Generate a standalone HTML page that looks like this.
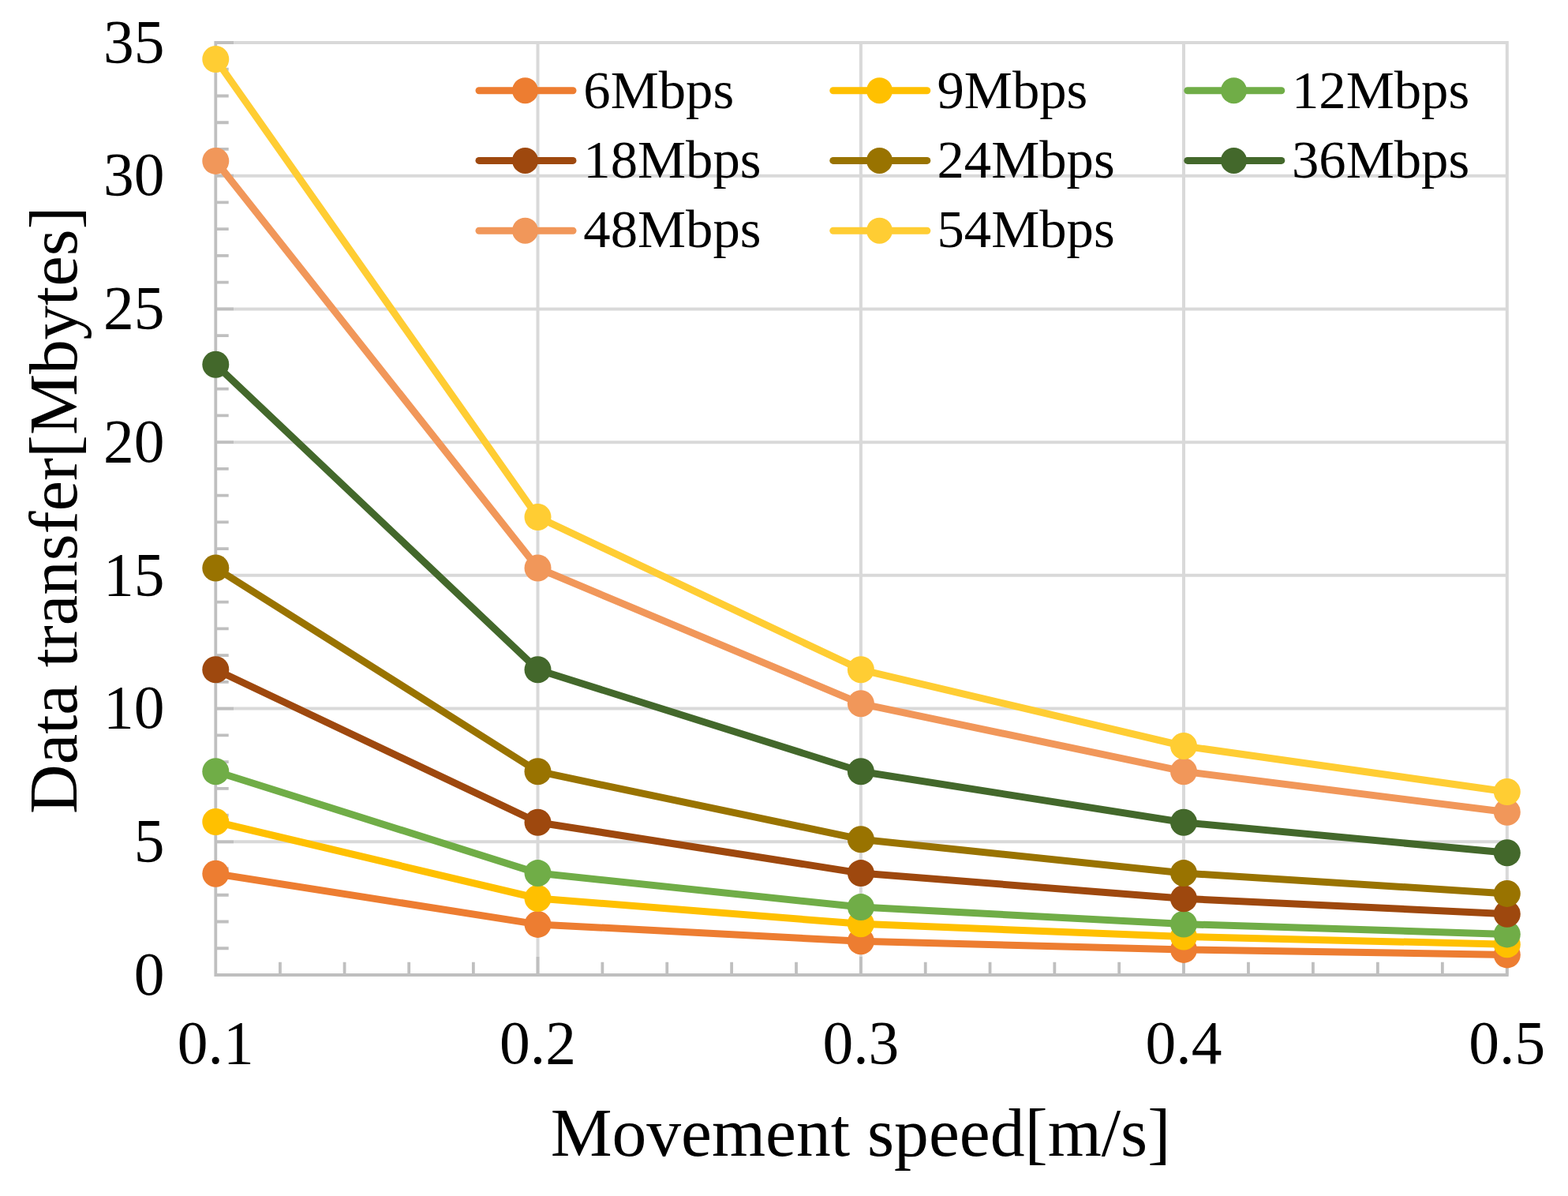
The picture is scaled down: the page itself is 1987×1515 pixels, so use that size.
<!DOCTYPE html><html><head><meta charset="utf-8"><title>Data transfer vs Movement speed</title><style>html,body{margin:0;padding:0;background:#fff;}svg{display:block;}text{font-family:"Liberation Serif","Times New Roman",serif;fill:#000;}</style></head><body>
<svg width="1987" height="1515" viewBox="0 0 1987 1515">
<rect width="1987" height="1515" fill="#fff"/>
<path d="M273.3 1066.29H1911.8 M273.3 897.57H1911.8 M273.3 728.86H1911.8 M273.3 560.14H1911.8 M273.3 391.43H1911.8 M273.3 222.71H1911.8 M273.3 54.00H1911.8 M681.5 52.00V1235.0 M1090.9 52.00V1235.0 M1500.0 52.00V1235.0 M1909.8 52.00V1235.0" stroke="#D9D9D9" stroke-width="4.0" fill="none"/>
<path d="M273.3 52.10V1236.90 M271.40 1235.0H1911.70 M273.3 1201.26h16.4 M273.3 1167.51h16.4 M273.3 1133.77h16.4 M273.3 1100.03h16.4 M273.3 1066.29h22.7 M273.3 1032.54h16.4 M273.3 998.80h16.4 M273.3 965.06h16.4 M273.3 931.31h16.4 M273.3 897.57h22.7 M273.3 863.83h16.4 M273.3 830.09h16.4 M273.3 796.34h16.4 M273.3 762.60h16.4 M273.3 728.86h22.7 M273.3 695.11h16.4 M273.3 661.37h16.4 M273.3 627.63h16.4 M273.3 593.89h16.4 M273.3 560.14h22.7 M273.3 526.40h16.4 M273.3 492.66h16.4 M273.3 458.91h16.4 M273.3 425.17h16.4 M273.3 391.43h22.7 M273.3 357.69h16.4 M273.3 323.94h16.4 M273.3 290.20h16.4 M273.3 256.46h16.4 M273.3 222.71h22.7 M273.3 188.97h16.4 M273.3 155.23h16.4 M273.3 121.49h16.4 M273.3 87.74h16.4 M273.3 54.00h22.7 M354.94 1235.0v-16.3 M436.58 1235.0v-16.3 M518.22 1235.0v-16.3 M599.86 1235.0v-16.3 M763.38 1235.0v-16.3 M845.26 1235.0v-16.3 M927.14 1235.0v-16.3 M1009.02 1235.0v-16.3 M1172.72 1235.0v-16.3 M1254.54 1235.0v-16.3 M1336.36 1235.0v-16.3 M1418.18 1235.0v-16.3 M1581.96 1235.0v-16.3 M1663.92 1235.0v-16.3 M1745.88 1235.0v-16.3 M1827.84 1235.0v-16.3 M681.5 1235.0v-23 M1090.9 1235.0v-23 M1500.0 1235.0v-23 M1909.8 1235.0v-23" stroke="#BFBFBF" stroke-width="3.8" fill="none"/>
<text x="208.5" y="1259.7" font-size="77.5" text-anchor="end">0</text>
<text x="208.5" y="1091.0" font-size="77.5" text-anchor="end">5</text>
<text x="208.5" y="922.3" font-size="77.5" text-anchor="end">10</text>
<text x="208.5" y="753.6" font-size="77.5" text-anchor="end">15</text>
<text x="208.5" y="584.8" font-size="77.5" text-anchor="end">20</text>
<text x="208.5" y="416.1" font-size="77.5" text-anchor="end">25</text>
<text x="208.5" y="247.4" font-size="77.5" text-anchor="end">30</text>
<text x="208.5" y="78.7" font-size="77.5" text-anchor="end">35</text>
<text x="273.3" y="1347" font-size="77.5" text-anchor="middle">0.1</text>
<text x="681.5" y="1347" font-size="77.5" text-anchor="middle">0.2</text>
<text x="1090.9" y="1347" font-size="77.5" text-anchor="middle">0.3</text>
<text x="1500.0" y="1347" font-size="77.5" text-anchor="middle">0.4</text>
<text x="1909.8" y="1347" font-size="77.5" text-anchor="middle">0.5</text>
<text x="1090.5" y="1463.7" font-size="87.6" text-anchor="middle">Movement speed[m/s]</text>
<text transform="translate(97 646.3) rotate(-90)" x="0" y="0" font-size="86.9" text-anchor="middle">Data transfer[Mbytes]</text>
<g fill="#ED7D31"><path d="M273.3 1106.8 L681.5 1170.9 L1090.9 1192.3 L1500.0 1202.9 L1909.8 1209.4" stroke="#ED7D31" stroke-width="9.0" fill="none" stroke-linejoin="round"/>
<circle cx="273.3" cy="1106.8" r="17.0"/>
<circle cx="681.5" cy="1170.9" r="17.0"/>
<circle cx="1090.9" cy="1192.3" r="17.0"/>
<circle cx="1500.0" cy="1202.9" r="17.0"/>
<circle cx="1909.8" cy="1209.4" r="17.0"/>
</g>
<g fill="#FFC000"><path d="M273.3 1041.0 L681.5 1138.0 L1090.9 1170.3 L1500.0 1186.5 L1909.8 1196.2" stroke="#FFC000" stroke-width="9.0" fill="none" stroke-linejoin="round"/>
<circle cx="273.3" cy="1041.0" r="17.0"/>
<circle cx="681.5" cy="1138.0" r="17.0"/>
<circle cx="1090.9" cy="1170.3" r="17.0"/>
<circle cx="1500.0" cy="1186.5" r="17.0"/>
<circle cx="1909.8" cy="1196.2" r="17.0"/>
</g>
<g fill="#70AD47"><path d="M273.3 977.2 L681.5 1106.1 L1090.9 1149.1 L1500.0 1170.6 L1909.8 1183.4" stroke="#70AD47" stroke-width="9.0" fill="none" stroke-linejoin="round"/>
<circle cx="273.3" cy="977.2" r="17.0"/>
<circle cx="681.5" cy="1106.1" r="17.0"/>
<circle cx="1090.9" cy="1149.1" r="17.0"/>
<circle cx="1500.0" cy="1170.6" r="17.0"/>
<circle cx="1909.8" cy="1183.4" r="17.0"/>
</g>
<g fill="#9E480E"><path d="M273.3 848.3 L681.5 1041.7 L1090.9 1106.1 L1500.0 1138.3 L1909.8 1157.7" stroke="#9E480E" stroke-width="9.0" fill="none" stroke-linejoin="round"/>
<circle cx="273.3" cy="848.3" r="17.0"/>
<circle cx="681.5" cy="1041.7" r="17.0"/>
<circle cx="1090.9" cy="1106.1" r="17.0"/>
<circle cx="1500.0" cy="1138.3" r="17.0"/>
<circle cx="1909.8" cy="1157.7" r="17.0"/>
</g>
<g fill="#997300"><path d="M273.3 719.5 L681.5 977.2 L1090.9 1063.2 L1500.0 1106.1 L1909.8 1131.9" stroke="#997300" stroke-width="9.0" fill="none" stroke-linejoin="round"/>
<circle cx="273.3" cy="719.5" r="17.0"/>
<circle cx="681.5" cy="977.2" r="17.0"/>
<circle cx="1090.9" cy="1063.2" r="17.0"/>
<circle cx="1500.0" cy="1106.1" r="17.0"/>
<circle cx="1909.8" cy="1131.9" r="17.0"/>
</g>
<g fill="#43682B"><path d="M273.3 461.7 L681.5 848.3 L1090.9 977.2 L1500.0 1041.7 L1909.8 1080.3" stroke="#43682B" stroke-width="9.0" fill="none" stroke-linejoin="round"/>
<circle cx="273.3" cy="461.7" r="17.0"/>
<circle cx="681.5" cy="848.3" r="17.0"/>
<circle cx="1090.9" cy="977.2" r="17.0"/>
<circle cx="1500.0" cy="1041.7" r="17.0"/>
<circle cx="1909.8" cy="1080.3" r="17.0"/>
</g>
<g fill="#F1975A"><path d="M273.3 203.9 L681.5 719.5 L1090.9 891.3 L1500.0 977.2 L1909.8 1028.8" stroke="#F1975A" stroke-width="9.0" fill="none" stroke-linejoin="round"/>
<circle cx="273.3" cy="203.9" r="17.0"/>
<circle cx="681.5" cy="719.5" r="17.0"/>
<circle cx="1090.9" cy="891.3" r="17.0"/>
<circle cx="1500.0" cy="977.2" r="17.0"/>
<circle cx="1909.8" cy="1028.8" r="17.0"/>
</g>
<g fill="#FFCD33"><path d="M273.3 75.0 L681.5 655.0 L1090.9 848.3 L1500.0 945.0 L1909.8 1003.0" stroke="#FFCD33" stroke-width="9.0" fill="none" stroke-linejoin="round"/>
<circle cx="273.3" cy="75.0" r="17.0"/>
<circle cx="681.5" cy="655.0" r="17.0"/>
<circle cx="1090.9" cy="848.3" r="17.0"/>
<circle cx="1500.0" cy="945.0" r="17.0"/>
<circle cx="1909.8" cy="1003.0" r="17.0"/>
</g>
<path d="M607.0 114.7H726.0" stroke="#ED7D31" stroke-width="9" stroke-linecap="round"/>
<circle cx="665.5" cy="114.7" r="16.5" fill="#ED7D31"/>
<text x="739.3" y="136.9" font-size="68.7">6Mbps</text>
<path d="M1055.8 114.7H1174.8" stroke="#FFC000" stroke-width="9" stroke-linecap="round"/>
<circle cx="1114.5" cy="114.7" r="16.5" fill="#FFC000"/>
<text x="1187.5" y="136.9" font-size="68.7">9Mbps</text>
<path d="M1504.8 114.7H1623.8" stroke="#70AD47" stroke-width="9" stroke-linecap="round"/>
<circle cx="1563.5" cy="114.7" r="16.5" fill="#70AD47"/>
<text x="1637.0" y="136.9" font-size="68.7">12Mbps</text>
<path d="M607.0 203.4H726.0" stroke="#9E480E" stroke-width="9" stroke-linecap="round"/>
<circle cx="665.5" cy="203.4" r="16.5" fill="#9E480E"/>
<text x="739.3" y="224.9" font-size="68.7">18Mbps</text>
<path d="M1055.8 203.4H1174.8" stroke="#997300" stroke-width="9" stroke-linecap="round"/>
<circle cx="1114.5" cy="203.4" r="16.5" fill="#997300"/>
<text x="1187.5" y="224.9" font-size="68.7">24Mbps</text>
<path d="M1504.8 203.4H1623.8" stroke="#43682B" stroke-width="9" stroke-linecap="round"/>
<circle cx="1563.5" cy="203.4" r="16.5" fill="#43682B"/>
<text x="1637.0" y="224.9" font-size="68.7">36Mbps</text>
<path d="M607.0 292.2H726.0" stroke="#F1975A" stroke-width="9" stroke-linecap="round"/>
<circle cx="665.5" cy="292.2" r="16.5" fill="#F1975A"/>
<text x="739.3" y="312.9" font-size="68.7">48Mbps</text>
<path d="M1055.8 292.2H1174.8" stroke="#FFCD33" stroke-width="9" stroke-linecap="round"/>
<circle cx="1114.5" cy="292.2" r="16.5" fill="#FFCD33"/>
<text x="1187.5" y="312.9" font-size="68.7">54Mbps</text>
</svg></body></html>
